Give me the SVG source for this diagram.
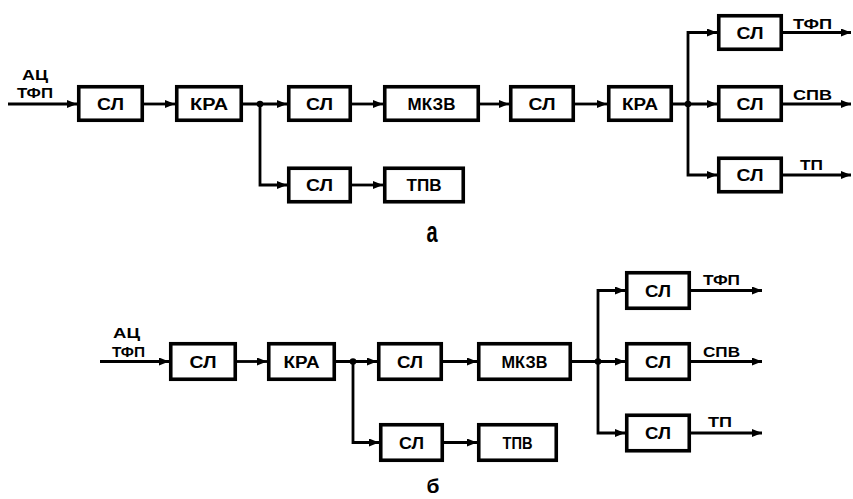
<svg xmlns="http://www.w3.org/2000/svg" width="853" height="499" viewBox="0 0 853 499">
<style>
.box{fill:#fff;stroke:#000;stroke-width:3.6}
.ln{fill:none;stroke:#000;stroke-width:2.8;marker-end:url(#ah)}
.t{font-family:"Liberation Sans",Arial,sans-serif;font-weight:bold;font-size:16px;text-anchor:middle;fill:#000}
.lb{font-family:"Liberation Sans",Arial,sans-serif;font-weight:bold;font-size:15px;fill:#000}
.cap{font-family:"Liberation Sans",Arial,sans-serif;font-weight:bold;font-size:20px;text-anchor:middle;fill:#000}
</style>
<defs>
<marker id="ah" markerUnits="userSpaceOnUse" markerWidth="11" markerHeight="9" refX="10" refY="4" orient="auto">
<path d="M0,0 L10,4 L0,8 Z" fill="#000"/>
</marker>
</defs>
<rect width="853" height="499" fill="#fff"/>

<g id="connectors">
<!-- diagram a -->
<path class="ln" d="M8,104 H77"/>
<path class="ln" d="M144,104 H175"/>
<path class="ln" d="M243,104 H287"/>
<path class="ln" d="M352,104 H383"/>
<path class="ln" d="M480,104 H509"/>
<path class="ln" d="M575,104 H607"/>
<path class="ln" d="M673,104 H717"/>
<path class="ln" d="M688,104 V32.5 H717"/>
<path class="ln" d="M688,104 V175 H717"/>
<path class="ln" d="M783,32.5 H851"/>
<path class="ln" d="M783,104 H851"/>
<path class="ln" d="M783,175 H851"/>
<path class="ln" d="M260,104 V185 H287"/>
<path class="ln" d="M352,185 H383"/>
<circle cx="260" cy="104" r="3.3"/>
<circle cx="688" cy="104" r="3.3"/>
<!-- diagram b -->
<path class="ln" d="M100,361.5 H169"/>
<path class="ln" d="M237,361.5 H267"/>
<path class="ln" d="M336,361.5 H377"/>
<path class="ln" d="M443,361.5 H477"/>
<path class="ln" d="M572,361.5 H625"/>
<path class="ln" d="M598,361.5 V290.5 H625"/>
<path class="ln" d="M598,361.5 V433 H625"/>
<path class="ln" d="M691,290.5 H762"/>
<path class="ln" d="M691,361.5 H762"/>
<path class="ln" d="M691,433 H762"/>
<path class="ln" d="M353,361.5 V442.5 H379"/>
<path class="ln" d="M444,442.5 H477"/>
<circle cx="353" cy="361.5" r="3.3"/>
<circle cx="598" cy="361.5" r="3.3"/>
</g>

<!-- diagram a nodes -->
<g id="a-in-label">
<text class="lb" x="22" y="80" textLength="26" lengthAdjust="spacingAndGlyphs">АЦ</text>
<text class="lb" x="17" y="98" textLength="36" lengthAdjust="spacingAndGlyphs">ТФП</text>
</g>
<g id="a-sl1"><rect class="box" x="78.75" y="86.75" width="63.5" height="33.5"/><text class="t" x="110.5" y="109.5" textLength="27" lengthAdjust="spacingAndGlyphs">СЛ</text></g>
<g id="a-kra1"><rect class="box" x="176.75" y="86.75" width="64.5" height="33.5"/><text class="t" x="209" y="109.5" textLength="38" lengthAdjust="spacingAndGlyphs">КРА</text></g>
<g id="a-sl2"><rect class="box" x="288.75" y="86.75" width="61.5" height="33.5"/><text class="t" x="319.5" y="109.5" textLength="27" lengthAdjust="spacingAndGlyphs">СЛ</text></g>
<g id="a-mkzv"><rect class="box" x="384.75" y="86.75" width="93.5" height="33.5"/><text class="t" x="431.5" y="109.5" textLength="48" lengthAdjust="spacingAndGlyphs">МКЗВ</text></g>
<g id="a-sl3"><rect class="box" x="510.75" y="86.75" width="62.5" height="33.5"/><text class="t" x="542" y="109.5" textLength="27" lengthAdjust="spacingAndGlyphs">СЛ</text></g>
<g id="a-kra2"><rect class="box" x="608.75" y="86.75" width="62.5" height="33.5"/><text class="t" x="640" y="109.5" textLength="36" lengthAdjust="spacingAndGlyphs">КРА</text></g>
<g id="a-sl-top"><rect class="box" x="718.75" y="15.75" width="62.5" height="33.5"/><text class="t" x="750" y="38.5" textLength="27" lengthAdjust="spacingAndGlyphs">СЛ</text></g>
<g id="a-sl-mid"><rect class="box" x="718.75" y="86.75" width="62.5" height="33.5"/><text class="t" x="750" y="109.5" textLength="27" lengthAdjust="spacingAndGlyphs">СЛ</text></g>
<g id="a-sl-bot"><rect class="box" x="718.75" y="158.25" width="62.5" height="33.5"/><text class="t" x="750" y="181" textLength="27" lengthAdjust="spacingAndGlyphs">СЛ</text></g>
<g id="a-sl-low"><rect class="box" x="288.75" y="168.25" width="61.5" height="33.5"/><text class="t" x="319.5" y="191" textLength="27" lengthAdjust="spacingAndGlyphs">СЛ</text></g>
<g id="a-tpv"><rect class="box" x="384.75" y="168.25" width="78.5" height="33.5"/><text class="t" x="424" y="191" textLength="35" lengthAdjust="spacingAndGlyphs">ТПВ</text></g>
<g id="a-out-labels">
<text class="lb" x="793" y="29" textLength="39" lengthAdjust="spacingAndGlyphs">ТФП</text>
<text class="lb" x="793" y="100" textLength="39" lengthAdjust="spacingAndGlyphs">СПВ</text>
<text class="lb" x="800" y="170" textLength="23" lengthAdjust="spacingAndGlyphs">ТП</text>
</g>
<text class="cap" transform="translate(432,242) scale(1,1.5)" x="0" y="0">а</text>

<!-- diagram b nodes -->
<g id="b-in-label">
<text class="lb" x="113" y="338" textLength="27" lengthAdjust="spacingAndGlyphs">АЦ</text>
<text class="lb" x="112" y="357" textLength="33" lengthAdjust="spacingAndGlyphs">ТФП</text>
</g>
<g id="b-sl1"><rect class="box" x="170.75" y="343.75" width="64.5" height="35.5"/><text class="t" x="203" y="367.5" textLength="27" lengthAdjust="spacingAndGlyphs">СЛ</text></g>
<g id="b-kra"><rect class="box" x="268.75" y="343.75" width="65.5" height="35.5"/><text class="t" x="301.5" y="367.5" textLength="36" lengthAdjust="spacingAndGlyphs">КРА</text></g>
<g id="b-sl2"><rect class="box" x="378.75" y="343.75" width="62.5" height="35.5"/><text class="t" x="410" y="367.5" textLength="26" lengthAdjust="spacingAndGlyphs">СЛ</text></g>
<g id="b-mkzv"><rect class="box" x="478.75" y="343.75" width="91.5" height="35.5"/><text class="t" x="524.5" y="367.5" textLength="46" lengthAdjust="spacingAndGlyphs">МКЗВ</text></g>
<g id="b-sl-top"><rect class="box" x="626.75" y="272.75" width="62.5" height="35.5"/><text class="t" x="658" y="296.5" textLength="26" lengthAdjust="spacingAndGlyphs">СЛ</text></g>
<g id="b-sl-mid"><rect class="box" x="626.75" y="343.75" width="62.5" height="35.5"/><text class="t" x="658" y="367.5" textLength="26" lengthAdjust="spacingAndGlyphs">СЛ</text></g>
<g id="b-sl-bot"><rect class="box" x="626.75" y="415.25" width="62.5" height="35.5"/><text class="t" x="658" y="439" textLength="26" lengthAdjust="spacingAndGlyphs">СЛ</text></g>
<g id="b-sl-low"><rect class="box" x="380.75" y="424.75" width="61.5" height="35.5"/><text class="t" x="411.5" y="448.5" textLength="25" lengthAdjust="spacingAndGlyphs">СЛ</text></g>
<g id="b-tpv"><rect class="box" x="478.75" y="424.75" width="77.5" height="35.5"/><text class="t" x="517.5" y="448.5" textLength="30" lengthAdjust="spacingAndGlyphs">ТПВ</text></g>
<g id="b-out-labels">
<text class="lb" x="703" y="285" textLength="37" lengthAdjust="spacingAndGlyphs">ТФП</text>
<text class="lb" x="703" y="357" textLength="37" lengthAdjust="spacingAndGlyphs">СПВ</text>
<text class="lb" x="708" y="427" textLength="24" lengthAdjust="spacingAndGlyphs">ТП</text>
</g>
<text class="cap" x="433" y="493" style="font-size:21px">б</text>
</svg>
